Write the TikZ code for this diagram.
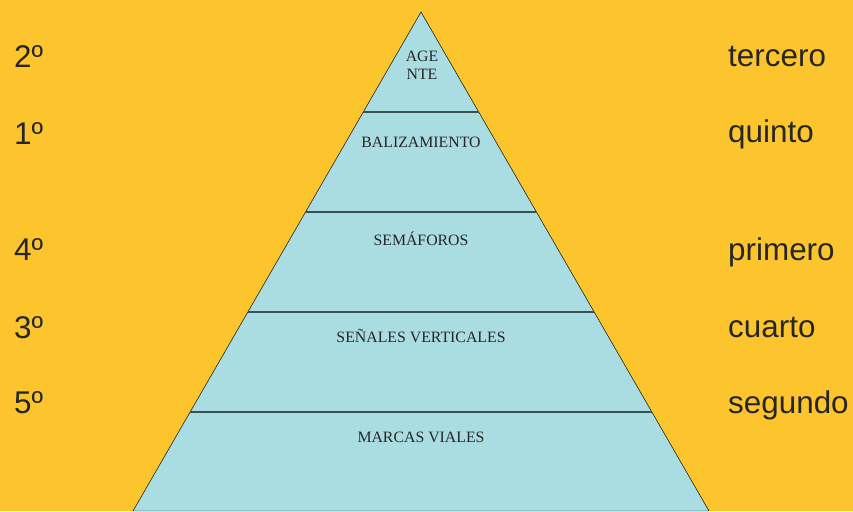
\documentclass[tikz,border=0pt]{standalone}
\usepackage{fontspec}
\setmainfont{Liberation Sans}
\newfontfamily\levelfont{Liberation Serif}
\usetikzlibrary{calc, positioning}
\definecolor{bgyellow}{RGB}{252,197,45}
\definecolor{pyrblue}{RGB}{170,221,225}
\definecolor{sepgray}{RGB}{58,80,84}

\tikzset{
  rank/.style={anchor=base west, inner sep=0pt, text=black!85,
    font=\fontsize{26.8}{30}\selectfont},
  level/.style={anchor=base, inner sep=0pt, text=black!85,
    font=\levelfont\fontsize{13.5}{15.3}\selectfont, align=center}
}

\begin{document}
\begin{tikzpicture}[x=0.03cm, y=-0.03cm]
  \useasboundingbox (0,0) rectangle (853,511);
  \fill[bgyellow] (0,0) rectangle (853,511);

  % pyramid
  \coordinate (apex) at (421,12);
  \coordinate (bl) at (133,511);
  \coordinate (br) at (709,511);
  \begin{scope}
    \clip (0,0) rectangle (853,511);
    \filldraw[fill=pyrblue, draw=black, thin] (apex) -- (bl) -- (br) -- cycle;
  \end{scope}

  % level separators
  \foreach \y in {112,212,312,412}
    \draw[sepgray, line width=1.2pt]
      ($(apex)!{(\y-12)/499}!(bl)$) -- ($(apex)!{(\y-12)/499}!(br)$);

  % level labels
  \node[level, anchor=center] (agente) at (422,65) {AGE\\NTE};
  \node[level] (baliza) at (421,148) {BALIZAMIENTO};
  \node[level] (semaf) at (421,245) {SEMÁFOROS};
  \node[level] (senales) at (421,342) {SEÑALES VERTICALES};
  \node[level] (marcas) at (421,442) {MARCAS VIALES};

  % ranks on the left
  \node[rank] (r2) at (14,68) {2º};
  \node[rank] (r1) at (14,145) {1º};
  \node[rank] (r4) at (14,260) {4º};
  \node[rank] (r3) at (14,338) {3º};
  \node[rank] (r5) at (14,413) {5º};

  % answers on the right
  \node[rank] (tercero) at (728,67) {tercero};
  \node[rank] (quinto) at (728,143) {quinto};
  \node[rank] (primero) at (728,260) {primero};
  \node[rank] (cuarto) at (728,337) {cuarto};
  \node[rank] (segundo) at (728,413) {segundo};
\end{tikzpicture}
\end{document}
